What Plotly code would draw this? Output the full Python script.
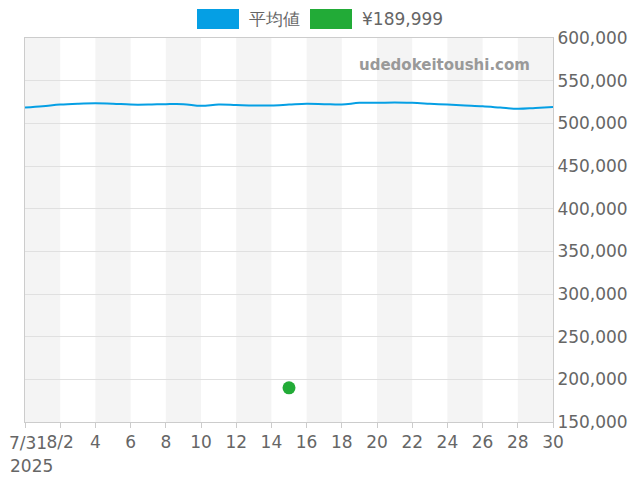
import plotly.graph_objects as go
import pandas as pd

dates = pd.date_range("2025-07-31", "2025-08-30", freq="D")
avg_values = [518500, 520000, 522000, 523000, 523500, 523000, 522000, 522000, 522500, 522500,
              520500, 522000, 521500, 521000, 521000, 522000, 523000, 522500, 522000, 524000,
              524000, 524500, 524000, 523000, 522000, 521000, 520000, 518500, 517000, 518000, 519000]
point_date = ["2025-08-15"]
point_value = [190000]
legend_names = ["平均値", "¥189,999"]
colors = ["#059fe4", "#22ab37"]

tick_vals = pd.date_range("2025-07-31", "2025-08-30", freq="2D")
tick_text = [""] + ["8/2"] + [str(d.day) for d in tick_vals[2:]]

# page body has an 8px margin, so the figure is offset by 8px
OFF = 8
W, H = 640 - OFF, 480 - OFF
L, R, T, B = 25 - OFF, 87, 38 - OFF, 58

fig = go.Figure()
fig.add_trace(go.Scatter(x=dates, y=avg_values, mode="lines", line=dict(color=colors[0], width=2, shape="spline"),
                         showlegend=False))
fig.add_trace(go.Scatter(x=point_date, y=point_value, mode="markers", marker=dict(color=colors[1], size=13),
                         showlegend=False))

for i in range(0, len(tick_vals) - 1, 2):
    fig.add_vrect(x0=tick_vals[i], x1=tick_vals[i + 1], fillcolor="#f4f4f4", line_width=0, layer="below")

# custom legend with wide boxes (screen pixel positions converted to paper coords)
def px(x):
    return (x - OFF - L) / (W - L - R)

def py(y):
    return (H - B - (y - OFF)) / (H - T - B)

for (x0, tx), name, c in zip([(197, 247), (310, 360)], legend_names, colors):
    fig.add_shape(type="rect", xref="paper", yref="paper", x0=px(x0), x1=px(x0 + 42),
                  y0=py(29), y1=py(9), fillcolor=c, line_width=0)
    fig.add_annotation(text=name, xref="paper", yref="paper", x=px(tx), y=py(19), xanchor="left",
                       yanchor="middle", showarrow=False, font=dict(size=17, color="#666666"))

fig.add_annotation(text="<b>udedokeitoushi.com</b>", xref="paper", yref="paper", x=px(532), y=py(65),
                   showarrow=False, xanchor="right", yanchor="middle",
                   font=dict(size=15, color="#999999", family="DejaVu Sans"))
fig.add_annotation(text="7/31", xref="paper", yref="paper", x=px(7), y=py(443), showarrow=False,
                   xanchor="left", yanchor="middle", font=dict(size=17, color="#666666"))
fig.add_annotation(text="2025", xref="paper", yref="paper", x=px(8), y=py(466), showarrow=False,
                   xanchor="left", yanchor="middle", font=dict(size=17, color="#666666"))

fig.update_layout(
    width=W, height=H, margin=dict(l=L, r=R, t=T, b=B),
    paper_bgcolor="white", plot_bgcolor="white", showlegend=False,
    font=dict(family="DejaVu Sans", color="#666666", size=17),
    xaxis=dict(range=[dates[0], dates[-1]], tickvals=tick_vals, ticktext=tick_text, tickangle=0,
               automargin=False, showgrid=False, showline=True, linecolor="#cccccc", mirror=True,
               ticks="outside", tickcolor="#cccccc", tickfont=dict(size=17)),
    yaxis=dict(range=[150000, 600000], dtick=50000, side="right", tickformat=",", automargin=False,
               gridcolor="#e0e0e0", showline=True, linecolor="#cccccc", mirror=True,
               tickfont=dict(size=17)),
)
fig.write_html("out.html")
